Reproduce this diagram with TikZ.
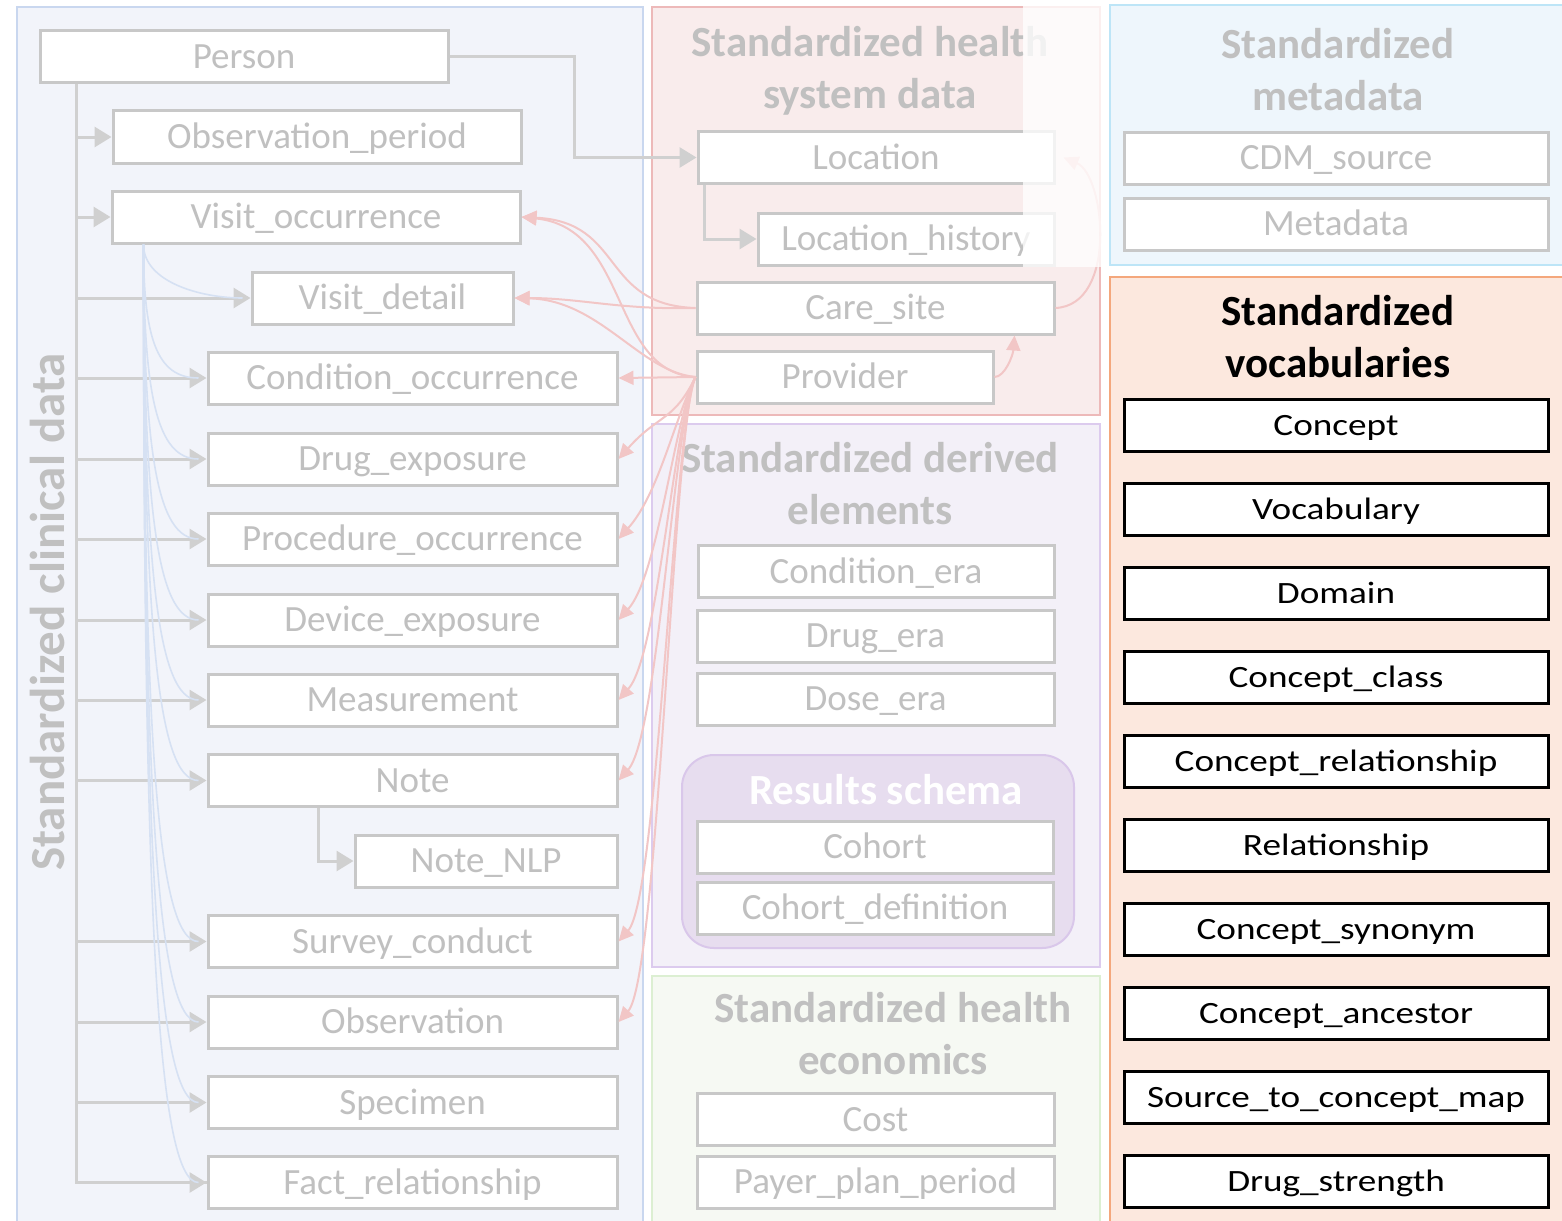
\documentclass[tikz,border=0pt]{standalone}
\usepackage{fontspec}
\setmainfont{Carlito}
\newfontfamily\vocabfont[FakeStretch=1.2]{Carlito}
\usetikzlibrary{arrows.meta,calc}
\definecolor{clinfill}{HTML}{F2F4FA}
\definecolor{clinborder}{HTML}{C9D7EF}
\definecolor{hsfill}{HTML}{F9ECEC}
\definecolor{hsborder}{HTML}{EDB9B9}
\definecolor{metafill}{HTML}{EEF6FC}
\definecolor{metaborder}{HTML}{BDE5F7}
\definecolor{vocfill}{HTML}{FCE8DE}
\definecolor{vocborder}{HTML}{F4A77C}
\definecolor{derfill}{HTML}{F3F0F8}
\definecolor{derborder}{HTML}{DCCBEE}
\definecolor{econfill}{HTML}{F6F9F3}
\definecolor{econborder}{HTML}{DCEFD2}
\definecolor{resfill}{HTML}{E7DDEF}
\definecolor{resborder}{HTML}{D9C7EA}
\definecolor{boxborder}{HTML}{C8C8C8}
\definecolor{boxtext}{HTML}{C0C0C0}
\definecolor{gline}{HTML}{D0D0D0}
\definecolor{bline}{HTML}{D6E1F3}
\definecolor{pline}{HTML}{F2C6C6}
\tikzset{
  panel/.style={line width=2pt},
  tbl/.style={draw=boxborder, fill=white, line width=3pt, text=boxtext, inner sep=0pt,
    minimum height=52pt, text height=23pt, text depth=0pt, font=\fontsize{37}{42}\selectfont},
  vtbl/.style={draw=black, fill=white, line width=3pt, text=black, inner sep=0pt,
    minimum height=52pt, minimum width=424pt, text height=20pt, text depth=0pt,
    font=\vocabfont\fontsize{31}{36}\selectfont},
  ttl/.style={text=boxtext, align=center, font=\fontsize{43}{52}\selectfont\bfseries, inner sep=0pt},
  gconn/.style={draw=gline, line width=3pt},
  garrow/.style={gconn, -{Triangle[length=17pt,width=20pt]}},
  bconn/.style={draw=bline, line width=1.6pt},
  parrow/.style={draw=pline, line width=2pt, -{Triangle[length=15pt,width=14pt]}}
}
\begin{document}
\begin{tikzpicture}[x=1pt,y=1pt]
\useasboundingbox (0,0) rectangle (1562,-1220);
\fill[white] (0,0) rectangle (1562,-1220);
% panels
\draw[panel, draw=clinborder, fill=clinfill] (17,-7) rectangle (643,-1230);
\draw[panel, draw=hsborder, fill=hsfill] (652,-7) rectangle (1100,-415);
\draw[panel, draw=metaborder, fill=metafill] (1110,-5) rectangle (1570,-265);
\draw[panel, draw=vocborder, fill=vocfill] (1110,-277) rectangle (1570,-1230);
\draw[panel, draw=derborder, fill=derfill] (652,-424) rectangle (1100,-967);
\draw[panel, draw=econborder, fill=econfill] (652,-976) rectangle (1100,-1230);
\draw[panel, draw=resborder, fill=resfill, rounded corners=32pt] (682,-755) rectangle (1074,-948);

% titles
\node[ttl] (ths) at (870,-71) {Standardized health\\system data};
\node[ttl] (tmeta) at (1338,-70) {Standardized\\metadata};
\node[ttl, text=black] (tvoc) at (1338,-337) {Standardized\\vocabularies};
\node[ttl] (tder) at (870,-484) {Standardized derived\\elements};
\node[ttl] (tecon) at (893,-1034) {Standardized health\\economics};
\node[ttl, text=white] (tres) at (886,-790) {Results schema};
\node[ttl, rotate=90, font=\fontsize{49}{52}\selectfont\bfseries] (tclin) at (47,-612) {Standardized clinical data};

% clinical tables
\node[tbl, minimum width=408pt] (pers) at (244,-57) {Person};
\node[tbl, minimum width=408pt] (op) at (317,-137) {Observation\_period};
\node[tbl, minimum width=408pt] (vo) at (316,-217) {Visit\_occurrence};
\node[tbl, minimum width=261pt] (vd) at (382.5,-298) {Visit\_detail};
\node[tbl, minimum width=409pt] (co) at (412.5,-378) {Condition\_occurrence};
\node[tbl, minimum width=409pt] (de) at (412.5,-459) {Drug\_exposure};
\node[tbl, minimum width=409pt] (po) at (412.5,-539) {Procedure\_occurrence};
\node[tbl, minimum width=409pt] (dv) at (412.5,-620) {Device\_exposure};
\node[tbl, minimum width=409pt] (me) at (412.5,-700) {Measurement};
\node[tbl, minimum width=409pt] (no) at (412.5,-780.5) {Note};
\node[tbl, minimum width=262pt] (nlp) at (486,-861) {Note\_NLP};
\node[tbl, minimum width=409pt] (sc) at (412.5,-941.5) {Survey\_conduct};
\node[tbl, minimum width=409pt] (ob) at (412.5,-1022) {Observation};
\node[tbl, minimum width=409pt] (sp) at (412.5,-1102.5) {Specimen};
\node[tbl, minimum width=409pt] (fr) at (412.5,-1182.5) {Fact\_relationship};

% health system tables
\node[tbl, minimum width=356pt] (loc) at (876,-157.5) {Location};
\node[tbl, minimum width=296pt] (lh) at (906,-239) {Location\_history};
\node[tbl, minimum width=357pt] (cs) at (875.5,-308) {Care\_site};
\node[tbl, minimum width=296pt] (prov) at (845,-377) {Provider};

% metadata tables
\node[tbl, minimum width=424pt] (cdm) at (1336,-158) {CDM\_source};
\node[tbl, minimum width=424pt] (md) at (1336,-224) {Metadata};

% derived
\node[tbl, minimum width=356pt] (ce) at (876,-571.5) {Condition\_era};
\node[tbl, minimum width=357pt] (dre) at (875.5,-636) {Drug\_era};
\node[tbl, minimum width=357pt] (dse) at (875.5,-699) {Dose\_era};
\node[tbl, minimum width=356pt] (coh) at (875,-847) {Cohort};
\node[tbl, minimum width=356pt] (cohd) at (875,-908) {Cohort\_definition};

% economics
\node[tbl, minimum width=357pt] (cost) at (875.5,-1119.5) {Cost};
\node[tbl, minimum width=357pt] (ppp) at (875.5,-1182) {Payer\_plan\_period};

% vocabularies
\node[vtbl] (v1) at (1336,-425) {Concept};
\node[vtbl] (v2) at (1336,-509) {Vocabulary};
\node[vtbl] (v3) at (1336,-593) {Domain};
\node[vtbl] (v4) at (1336,-677) {Concept\_class};
\node[vtbl] (v5) at (1336,-761) {Concept\_relationship};
\node[vtbl] (v6) at (1336,-845) {Relationship};
\node[vtbl] (v7) at (1336,-929) {Concept\_synonym};
\node[vtbl] (v8) at (1336,-1013) {Concept\_ancestor};
\node[vtbl] (v9) at (1336,-1097) {Source\_to\_concept\_map};
\node[vtbl] (v10) at (1336,-1181) {Drug\_strength};

% gray connectors from Person
\coordinate (trunk) at ([xshift=38pt]pers.south west);
\draw[gconn] (trunk) |- (fr.west);
\foreach \t in {op,vo,vd,co,de,po,dv,me,no,sc,ob,sp,fr}
  \draw[garrow] (trunk |- \t.west) -- (\t.west);
\draw[garrow] (pers.east) -- ++(125,0) |- (loc.west);
\draw[garrow] ([xshift=8pt]loc.south west) |- (lh.west);
\draw[garrow] ([xshift=112pt]no.south west) |- (nlp.west);

% blue curves from Visit_occurrence
\coordinate (vob) at ([xshift=33pt]vo.south west);
\foreach \t in {vd,co,de,po,dv,me,no,sc,ob,sp,fr}
  \draw[bconn] (vob) .. controls ($(vob)!0.7!(vob |- \t.west)$) and ($(\t.west)+(-50,0)$) .. ([xshift=-8pt]\t.west);

% pink curves
\draw[parrow] (cs.west) .. controls (600,-305) and (625,-222) .. (vo.east);
\draw[parrow] (cs.west) .. controls (620,-310) and (580,-298) .. (vd.east);
\draw[parrow] (prov.west) .. controls (610,-372) and (630,-228) .. (vo.east);
\draw[parrow] (prov.west) .. controls (640,-372) and (600,-300) .. (vd.east);
\draw[parrow] (prov.west) -- (co.east);
\foreach \t in {de,po,dv,me,no,sc,ob}
  \draw[parrow] (prov.west) .. controls ($(prov.west)+(-22,-45)$) and ($(\t.east)+(40,45)$) .. (\t.east);
\draw[parrow] (prov.east) .. controls (1005,-377) and (1013,-355) .. ([xshift=-41pt]cs.south east);
\draw[parrow] (cs.east) .. controls (1118,-305) and (1105,-175) .. ([xshift=8pt]loc.east);

% fading overlay
\fill[white, opacity=0.78] (1023,-5) rectangle (1108,-267);
\end{tikzpicture}
\end{document}
